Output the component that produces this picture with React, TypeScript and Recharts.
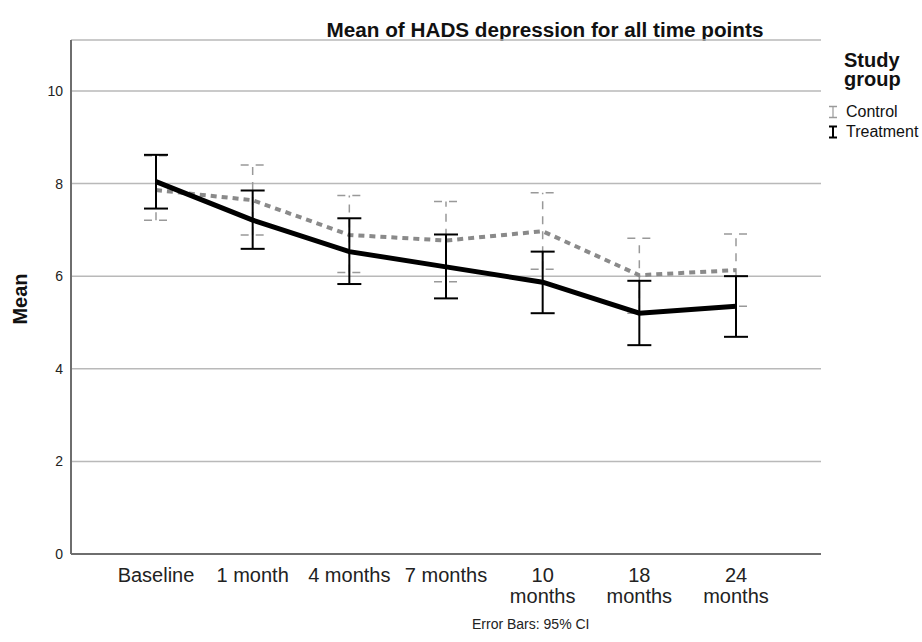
import React from "react";
import {
  LineChart,
  Line,
  XAxis,
  YAxis,
  CartesianGrid,
  ErrorBar,
  Legend,
} from "recharts";

const timePoints = [
  "Baseline",
  "1 month",
  "4 months",
  "7 months",
  "10 months",
  "18 months",
  "24 months",
];
const controlMean = [7.86, 7.64, 6.89, 6.77, 6.97, 6.02, 6.13];
const controlLow = [7.21, 6.89, 6.08, 5.88, 6.15, 5.2, 5.35];
const controlHigh = [8.6, 8.4, 7.74, 7.61, 7.8, 6.82, 6.91];
const treatmentMean = [8.04, 7.21, 6.53, 6.2, 5.87, 5.2, 5.35];
const treatmentLow = [7.46, 6.59, 5.83, 5.52, 5.2, 4.51, 4.69];
const treatmentHigh = [8.62, 7.85, 7.25, 6.9, 6.53, 5.9, 6.0];
const yTicks = [0, 2, 4, 6, 8, 10];

const FONT = '"Liberation Sans", Arial, sans-serif';

const data = timePoints.map((name, i) => ({
  name,
  control: controlMean[i],
  controlErr: [controlMean[i] - controlLow[i], controlHigh[i] - controlMean[i]],
  treatment: treatmentMean[i],
  treatmentErr: [
    treatmentMean[i] - treatmentLow[i],
    treatmentHigh[i] - treatmentMean[i],
  ],
}));

function TimeTick({ x, y, payload }: any) {
  const label: string = payload.value;
  // long labels wrap onto two lines, like the original
  const lines = label.length > 8 ? label.split(" ") : [label];
  return (
    <text x={x} y={y} textAnchor="middle" fill="#222" fontSize={20} fontFamily={FONT}>
      {lines.map((l, i) => (
        <tspan key={i} x={x} dy={i === 0 ? 28 : 21}>
          {l}
        </tspan>
      ))}
    </text>
  );
}

function MeanLabel({ viewBox }: any) {
  const cx = 27;
  const cy = viewBox.y + viewBox.height / 2 + 2;
  return (
    <text
      x={cx}
      y={cy}
      transform={`rotate(-90 ${cx} ${cy})`}
      textAnchor="middle"
      fontSize={20}
      fontWeight="bold"
      fill="#111"
      fontFamily={FONT}
    >
      Mean
    </text>
  );
}

function LegendIcon({ color, bold }: { color: string; bold: boolean }) {
  return (
    <svg width={10} height={14} style={{ marginRight: 8 }}>
      <line x1={1} y1={1.5} x2={9} y2={1.5} stroke={color} strokeWidth={bold ? 2 : 1.5} />
      <line x1={5} y1={1.5} x2={5} y2={12.5} stroke={color} strokeWidth={bold ? 2 : 1.2} />
      <line x1={1} y1={12.5} x2={9} y2={12.5} stroke={color} strokeWidth={bold ? 2 : 1.5} />
    </svg>
  );
}

function StudyLegend({ payload }: any) {
  return (
    <div style={{ fontFamily: FONT, color: "#111" }}>
      <div
        style={{
          fontSize: 20,
          fontWeight: "bold",
          lineHeight: "19px",
          marginLeft: 16,
          width: 64,
        }}
      >
        Study group
      </div>
      <div style={{ marginTop: 13 }}>
        {(payload || []).map((p: any) => (
          <div
            key={p.value}
            style={{ display: "flex", alignItems: "center", fontSize: 16, height: 20 }}
          >
            <LegendIcon color={p.value === "Control" ? "#9a9a9a" : "#000"} bold={p.value !== "Control"} />
            <span>{p.value}</span>
          </div>
        ))}
      </div>
    </div>
  );
}

export default function App() {
  return (
    <div
      style={{
        position: "absolute",
        left: 0,
        top: 0,
        width: 922,
        height: 642,
        background: "#fff",
        fontFamily: FONT,
      }}
    >
      <div
        style={{
          position: "absolute",
          left: 245,
          top: 18,
          width: 600,
          textAlign: "center",
          fontSize: 20.7,
          fontWeight: "bold",
          color: "#111",
        }}
      >
        Mean of HADS depression for all time points
      </div>
      <LineChart
        width={922}
        height={642}
        data={data}
        margin={{ top: 40, right: 101, bottom: 0, left: 0 }}
      >
        <CartesianGrid vertical={false} stroke="#b9b9b9" strokeWidth={1.5} />
        <XAxis
          dataKey="name"
          height={88}
          padding={{ left: 85, right: 85 }}
          stroke="#6e6e6e"
          strokeWidth={2}
          tickLine={false}
          tickSize={0}
          tickMargin={0}
          interval={0}
          tick={<TimeTick />}
        />
        <YAxis
          width={71}
          domain={[0, 11.1]}
          ticks={yTicks}
          allowDataOverflow
          stroke="#6e6e6e"
          strokeWidth={2}
          tickLine={false}
          tickSize={0}
          tickMargin={8}
          tick={{ fill: "#222", fontSize: 14, fontFamily: FONT }}
          label={<MeanLabel />}
        />
        <Legend
          layout="vertical"
          align="center"
          verticalAlign="middle"
          wrapperStyle={{ top: 51, left: 828, width: 94 }}
          content={<StudyLegend />}
        />
        <Line
          name="Control"
          dataKey="control"
          type="linear"
          stroke="#8a8a8a"
          strokeWidth={4}
          strokeDasharray="6 5"
          dot={false}
          activeDot={false}
          isAnimationActive={false}
        >
          <ErrorBar
            dataKey="controlErr"
            width={12}
            stroke="#999"
            strokeWidth={1.5}
            strokeDasharray="8 7"
            isAnimationActive={false}
          />
        </Line>
        <Line
          name="Treatment"
          dataKey="treatment"
          type="linear"
          stroke="#000"
          strokeWidth={5}
          dot={false}
          activeDot={false}
          isAnimationActive={false}
        >
          <ErrorBar
            dataKey="treatmentErr"
            width={12}
            stroke="#000"
            strokeWidth={2}
            isAnimationActive={false}
          />
        </Line>
      </LineChart>
      <div
        style={{
          position: "absolute",
          left: 472,
          top: 616,
          fontSize: 14,
          color: "#222",
        }}
      >
        Error Bars: 95% CI
      </div>
    </div>
  );
}
